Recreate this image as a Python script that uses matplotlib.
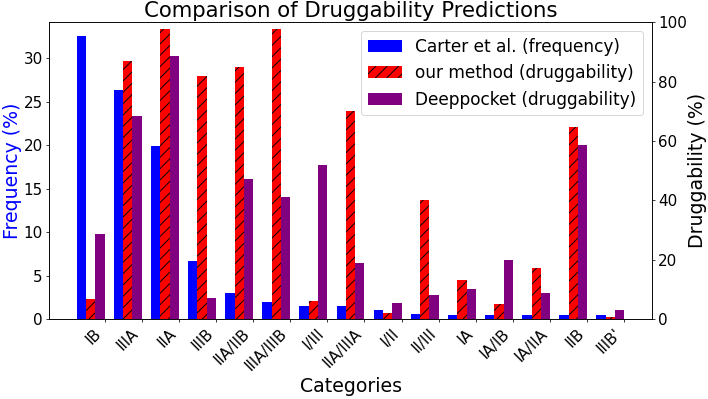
import numpy as np
import matplotlib
matplotlib.use("Agg")
import matplotlib.pyplot as plt

categories = ["IB", "IIIA", "IIA", "IIIB", "IIA/IIB", "IIIA/IIIB", "I/III", "IIA/IIIA",
              "I/II", "II/III", "IA", "IA/IB", "IA/IIA", "IIB", "IIIB'"]
carter_freq = [32.5, 26.3, 19.9, 6.7, 3.0, 2.0, 1.55, 1.55, 1.05, 0.65, 0.45, 0.45, 0.45, 0.45, 0.45]
our_drug = [6.9, 86.9, 97.9, 81.9, 85.0, 97.9, 6.0, 70.1, 2.0, 40.0, 13.1, 5.0, 17.2, 64.9, 0.9]
deep_drug = [28.7, 68.5, 88.7, 7.0, 47.1, 41.2, 51.8, 18.9, 5.6, 8.2, 10.3, 20.0, 8.9, 58.6, 3.0]

plt.rcParams['hatch.color'] = 'black'

DPI = 68
fig = plt.figure(figsize=(708 / DPI, 399 / DPI), dpi=DPI)
ax = fig.add_axes([0.0697, 0.2, 0.8508, 0.744])
ax2 = ax.twinx()

x = np.arange(len(categories))
w = 0.25
b1 = ax.bar(x - w, carter_freq, w, color='blue', label='Carter et al. (frequency)')
b2 = ax2.bar(x, our_drug, w, color='red', hatch='//', label='our method (druggability)')
b3 = ax2.bar(x + w, deep_drug, w, color='purple', label='Deeppocket (druggability)')

ax2.set_ylim(0, 100)
ax.set_xticks(x + 1.5 * w)
ax.set_xticklabels(categories, rotation=45, ha='right', fontsize=16)
ax.tick_params(axis='y', labelsize=16)
ax2.tick_params(axis='y', labelsize=16)
ax.set_xlabel('Categories', fontsize=20)
ax.set_ylabel('Frequency (%)', fontsize=20, color='blue', labelpad=2)
ax2.set_ylabel('Druggability (%)', fontsize=20, labelpad=1)
ax.set_title('Comparison of Druggability Predictions', fontsize=22.5)

handles = [b1, b2, b3]
ax2.legend(handles, [h.get_label() for h in handles], loc='upper right', fontsize=18)

fig.savefig('out.png', dpi=DPI)
